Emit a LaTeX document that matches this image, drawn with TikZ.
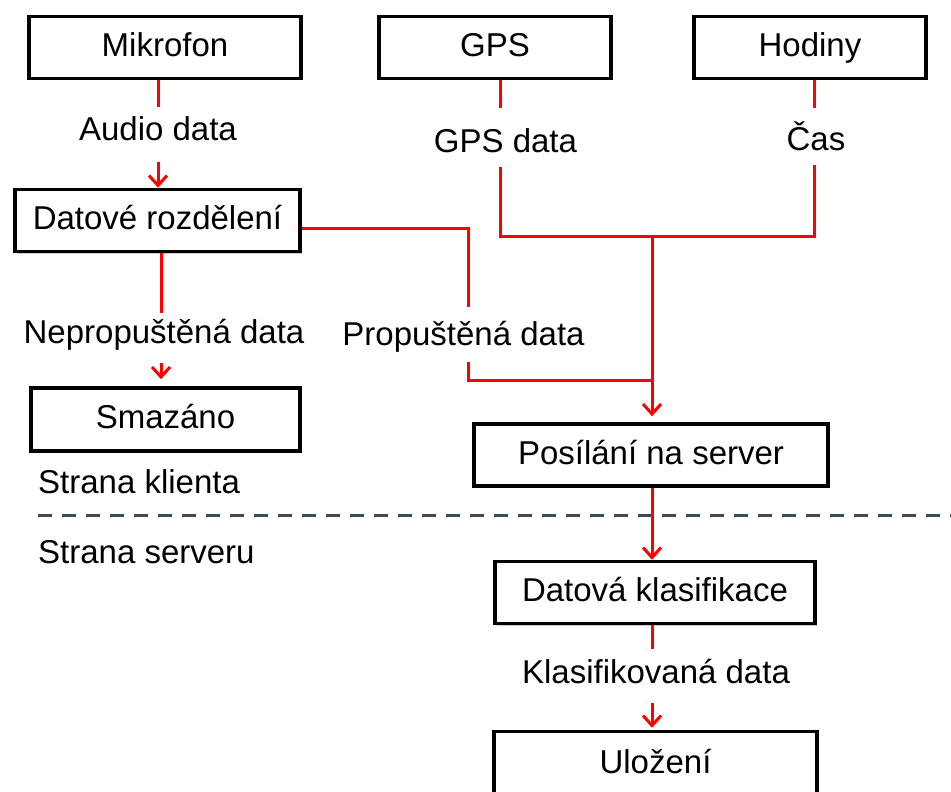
\documentclass[tikz,border=0pt]{standalone}
\usepackage{fontspec}
\setmainfont{Liberation Sans}
\usetikzlibrary{arrows.meta,shadows}
\definecolor{dashc}{HTML}{3A4A5C}
\begin{document}
\begin{tikzpicture}[x=1pt,y=-1pt,
  font=\fontsize{33}{40}\selectfont,
  box/.style={draw=black,line width=3.5pt,fill=white,minimum height=62pt,inner sep=0pt,
    text height=24pt,text depth=6pt,
    drop shadow={shadow xshift=2pt,shadow yshift=-2pt,opacity=0.4,fill=black!50}},
  lab/.style={inner sep=0pt,anchor=base},
  conn/.style={draw=red,line width=3pt},
  arr/.style={conn,-{Straight Barb[length=10pt,width=18pt]}},
]
\useasboundingbox (0,0) rectangle (951,792);

% boxes
\node[box,minimum width=272pt] (mik) at (165,47.5) {Mikrofon};
\node[box,minimum width=232pt] (gps) at (495,47.5) {GPS};
\node[box,minimum width=232pt] (hod) at (810,47.5) {Hodiny};
\node[box,minimum width=285pt] (dat) at (157.5,220.5) {Datové rozdělení};
\node[box,minimum width=269pt,minimum height=63pt] (smz) at (165.5,419.5) {Smazáno};
\node[box,minimum width=354pt,minimum height=62pt] (pos) at (651,455) {Posílání na server};
\node[box,minimum width=320pt] (kla) at (655,592.5) {Datová klasifikace};
\node[box,minimum width=323pt,minimum height=65pt] (ulo) at (655.5,764) {Uložení};

% labels
\node[lab] (aud) at (158,140) {Audio data};
\node[lab] (gpsd) at (505.5,152) {GPS data};
\node[lab] (cas) at (816,150) {Čas};
\node[lab] (nep) at (164,343) {Nepropuštěná data};
\node[lab] (pro) at (463.5,345) {Propuštěná data};
\node[lab,anchor=base west] (kli) at (38,493) {Strana klienta};
\node[lab,anchor=base west] (ser) at (38,563) {Strana serveru};
\node[lab] (kld) at (656,683) {Klasifikovaná data};

% dashed separator
\coordinate (d1) at (38,515);
\coordinate (d2) at (951,515);
\draw[dashc,line width=3pt,dash pattern=on 14pt off 10pt] (d1) -- (d2);

% coordinates for gaps and junctions
\coordinate (a1) at (158,107);
\coordinate (a2) at (158,162);
\coordinate (g1) at (500,108);
\coordinate (g2) at (500,167);
\coordinate (h1) at (814,108);
\coordinate (h2) at (814,165);
\coordinate (jt) at (652,236);
\coordinate (p1) at (468,307);
\coordinate (p2) at (468,362);
\coordinate (jb) at (652,380);
\coordinate (n1) at (161,313);
\coordinate (n2) at (161,363);
\coordinate (k1) at (652,649);
\coordinate (k2) at (652,703);

% connectors
\draw[conn] (mik.south -| a1) -- (a1);
\draw[arr] (a2) -- (dat.north -| a2);

\draw[conn] (gps.south -| g1) -- (g1);
\draw[conn] (hod.south -| h1) -- (h1);
\draw[conn] (g2) |- (h2 |- jt) -- (h2);
\draw[arr,shorten >=6pt] (jt) -- (pos.north -| jt);

\draw[conn] ([yshift=-7.5pt]dat.east) -| (p1);
\draw[conn] (p2) |- (jb);

\draw[conn] (dat.south -| n1) -- (n1);
\draw[arr,shorten >=7pt] (n2) -- (smz.north -| n2);

\draw[arr] (pos.south -| jt) -- (kla.north -| jt);

\draw[conn] (kla.south -| k1) -- (k1);
\draw[arr,shorten >=2pt] (k2) -- (ulo.north -| k2);
\end{tikzpicture}
\end{document}
